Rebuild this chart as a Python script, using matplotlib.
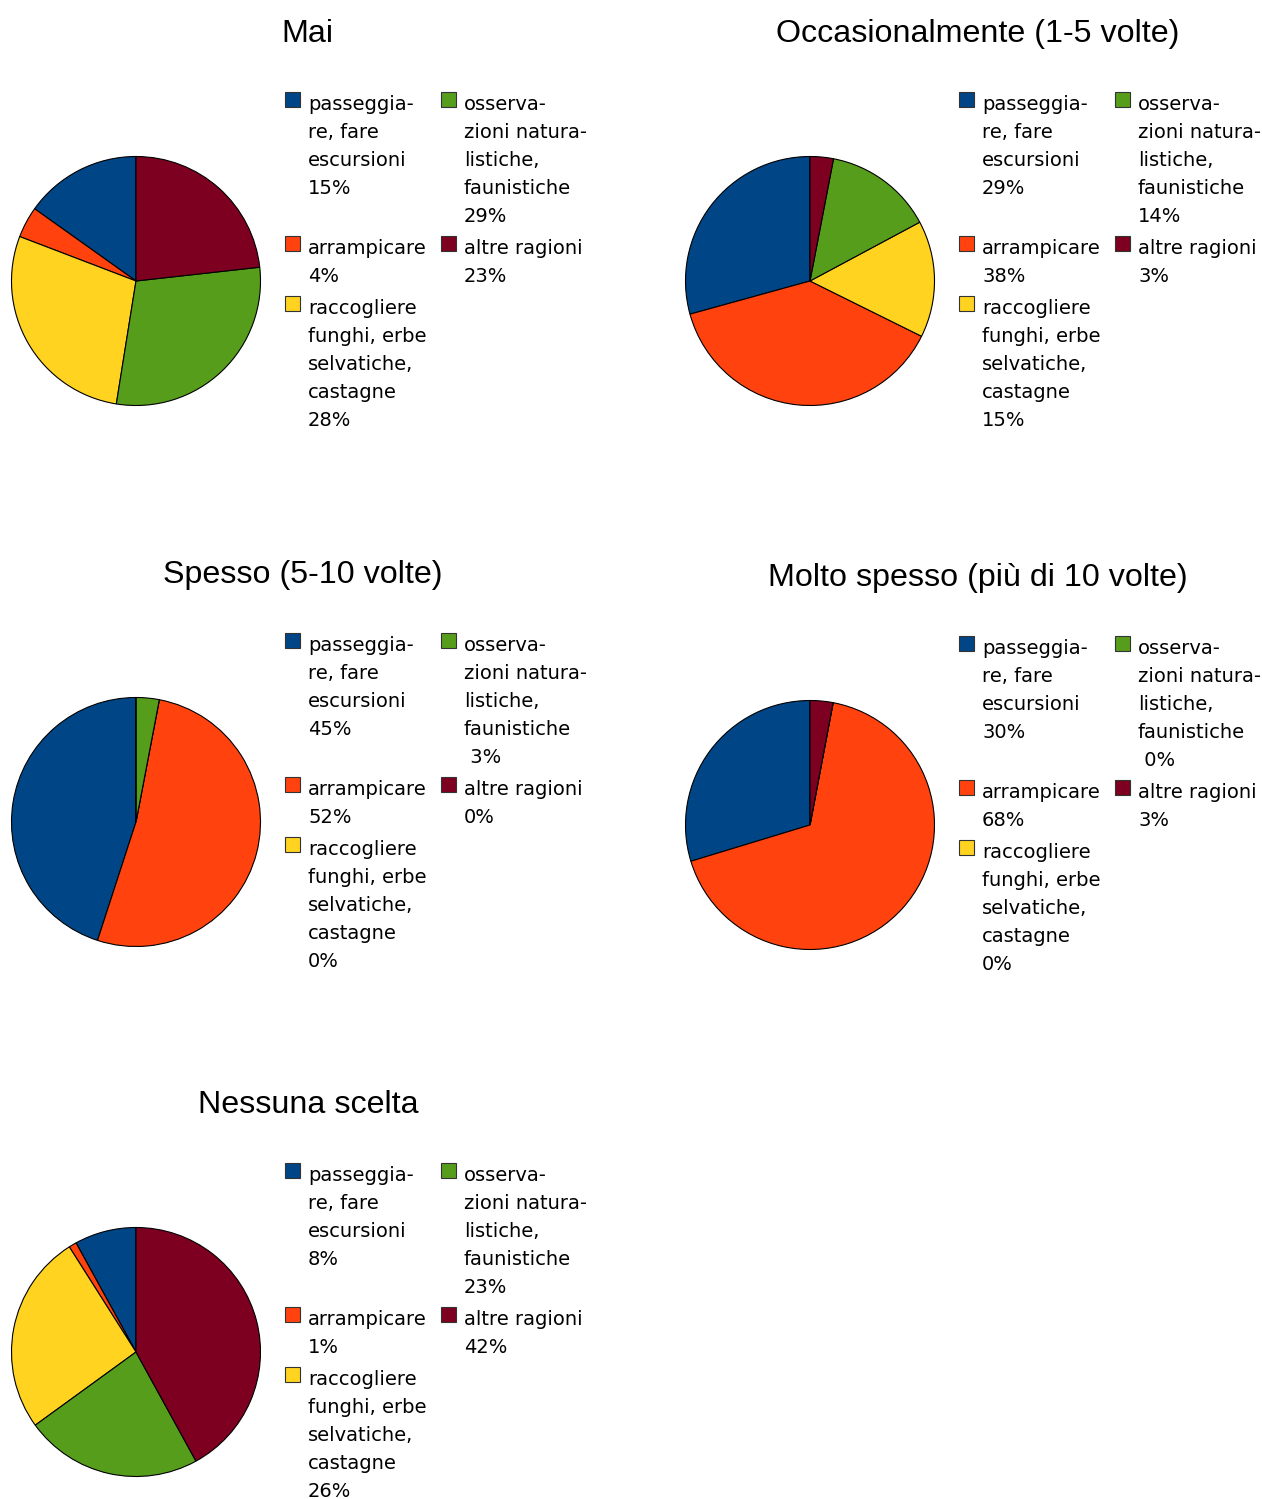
import matplotlib
matplotlib.use("Agg")
import matplotlib.pyplot as plt
from matplotlib.patches import Rectangle

# categories in the order the wedges are drawn (counter-clockwise from 12 o'clock)
categories = ["passeggiare", "arrampicare", "raccogliere", "osservazioni", "altre"]
legend_lines = [
    ["passeggia-", "re, fare", "escursioni"],
    ["arrampicare"],
    ["raccogliere", "funghi, erbe", "selvatiche,", "castagne"],
    ["osserva-", "zioni natura-", "listiche,", "faunistiche"],
    ["altre ragioni"],
]
colors = ["#004586", "#ff420e", "#ffd320", "#579d1c", "#7e0021"]

titles = ["Mai", "Occasionalmente (1-5 volte)", "Spesso (5-10 volte)",
          "Molto spesso (più di 10 volte)", "Nessuna scelta"]
mai = [15, 4, 28, 29, 23]
occasionalmente = [29, 38, 15, 14, 3]
spesso = [45, 52, 0, 3, 0]
molto_spesso = [30, 68, 0, 0, 3]
nessuna = [8, 1, 26, 23, 42]
values = [mai, occasionalmente, spesso, molto_spesso, nessuna]
# the wrapped "faunistiche" entry keeps a leading blank in some charts
lead_space = [False, False, True, True, False]

W, H = 1262, 1499
fig = plt.figure(figsize=(W / 100, H / 100), dpi=100)
fig.patch.set_facecolor("white")


def fx(x):
    return x / W


def fy(y):
    return 1 - y / H


# panel layout in pixels: title centre x, pie centre (x, y), legend left x
panels = [
    (307, 136, 281, 285),
    (978, 810, 281, 959),
    (303, 136, 822, 285),
    (978, 810, 825, 959),
    (308, 136, 1352, 285),
]
R = 124.5
LINE = 28
legend_rows = [(0, 3), (1, 4), (2, None)]

for k, (tx, cx, cy, lx) in enumerate(panels):
    vals = values[k]

    fig.text(fx(tx), fy(cy - 239), titles[k], ha="center", va="baseline",
             fontsize=23.2, family="Liberation Sans")

    ax = fig.add_axes([fx(cx - R), fy(cy + R), 2 * R / W, 2 * R / H])
    ax.pie(vals, colors=colors, startangle=90, counterclock=True,
           wedgeprops=dict(edgecolor="black", linewidth=0.8))
    ax.set_xlim(-1, 1)
    ax.set_ylim(-1, 1)
    ax.set_aspect("equal")
    ax.axis("off")

    # legend: two columns, rows aligned on the taller entry
    base = cy - 171
    for row in legend_rows:
        heights = []
        for col, idx in enumerate(row):
            if idx is None:
                continue
            x0 = lx + col * 156
            pct = f"{vals[idx]}%"
            if idx == 3 and lead_space[k]:
                pct = " " + pct
            lines = legend_lines[idx] + [pct]
            fig.patches.append(Rectangle((fx(x0), fy(base - 3)), 15 / W, 15 / H,
                                         transform=fig.transFigure,
                                         facecolor=colors[idx],
                                         edgecolor="#333333", linewidth=0.8))
            for i, s in enumerate(lines):
                fig.text(fx(x0 + 23), fy(base + i * LINE), s, ha="left",
                         va="baseline", fontsize=14.0, family="DejaVu Sans")
            heights.append(len(lines))
        base += max(heights) * LINE + 4

fig.savefig("out.png", dpi=100, facecolor="white")
